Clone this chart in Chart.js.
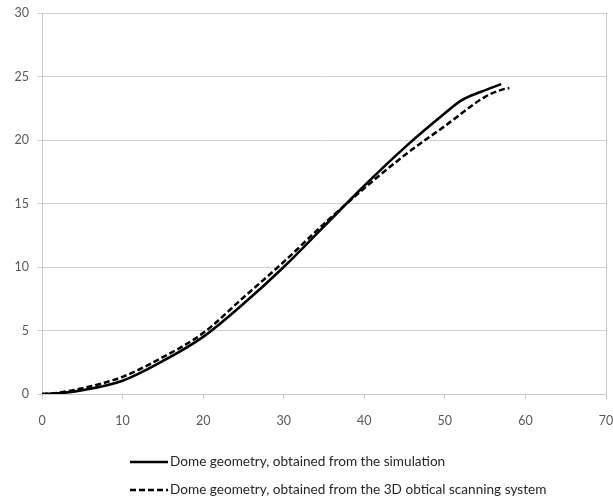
<!DOCTYPE html>
<html>
<head>
<meta charset="utf-8">
<script src="https://cdn.jsdelivr.net/npm/chart.js@4/dist/chart.umd.min.js"></script>
<style>
html,body{margin:0;padding:0;background:#fff;}
#wrap{width:613px;height:504px;position:relative;}
</style>
</head>
<body>
<div id="wrap"><canvas id="c" width="613" height="504"></canvas></div>
<script>
const xSim = [0, 2, 5, 10, 15, 20, 25, 30, 35, 40, 45, 50, 52, 54.5, 57];
const ySim = [0, 0.05, 0.3, 1.05, 2.6, 4.5, 7.1, 10.0, 13.2, 16.4, 19.4, 22.1, 23.1, 23.8, 24.4];
const xScan = [0, 2, 5, 10, 15, 20, 25, 30, 35, 40, 45, 50, 55, 57, 58];
const yScan = [0, 0.1, 0.45, 1.35, 2.9, 4.8, 7.6, 10.4, 13.4, 16.2, 18.8, 21.1, 23.4, 23.95, 24.1];
const seriesNames = ["Dome geometry, obtained from the simulation", "Dome geometry, obtained from the 3D obtical scanning system"];
const xTicks = [0, 10, 20, 30, 40, 50, 60, 70];
const yTicks = [0, 5, 10, 15, 20, 25, 30];

const pts = (xs, ys) => xs.map((x, i) => ({x: x, y: ys[i]}));
const FONT = "Lato, 'Open Sans', sans-serif";

const legendPlugin = {
  id: 'customLegend',
  afterDraw(chart) {
    const ctx = chart.ctx;
    const items = [
      {y: 462, dash: []},
      {y: 490, dash: [6, 3]}
    ];
    ctx.save();
    items.forEach((it, i) => {
      ctx.strokeStyle = '#000';
      ctx.lineWidth = 2.5;
      ctx.setLineDash(it.dash);
      ctx.beginPath();
      ctx.moveTo(130, it.y);
      ctx.lineTo(168, it.y);
      ctx.stroke();
      ctx.setLineDash([]);
      ctx.fillStyle = '#262626';
      ctx.font = "13.6px " + FONT;
      ctx.textBaseline = 'middle';
      ctx.textAlign = 'left';
      ctx.fillText(seriesNames[i], 170, it.y);
    });
    ctx.restore();
  }
};

const borderPlugin = {
  id: 'rightBorder',
  beforeDatasetsDraw(chart) {
    const a = chart.chartArea, ctx = chart.ctx;
    ctx.save();
    ctx.strokeStyle = '#c8c8c8';
    ctx.lineWidth = 1;
    ctx.beginPath();
    ctx.moveTo(Math.round(a.right) + 0.5, a.top);
    ctx.lineTo(Math.round(a.right) + 0.5, a.bottom);
    ctx.stroke();
    ctx.restore();
  }
};

new Chart(document.getElementById('c'), {
  type: 'scatter',
  data: {
    datasets: [
      {label: seriesNames[0], data: pts(xSim, ySim), showLine: true, borderColor: '#000', borderWidth: 2.6, pointRadius: 0, cubicInterpolationMode: 'monotone', fill: false},
      {label: seriesNames[1], data: pts(xScan, yScan), showLine: true, borderColor: '#000', borderWidth: 2.5, borderDash: [6, 3], pointRadius: 0, cubicInterpolationMode: 'monotone', fill: false}
    ]
  },
  options: {
    responsive: false,
    animation: false,
    layout: {padding: {top: 13, right: 7, left: 0, bottom: 0}},
    plugins: {legend: {display: false}, tooltip: {enabled: false}},
    scales: {
      x: {
        type: 'linear', min: 0, max: 70,
        afterBuildTicks: s => { s.ticks = xTicks.map(v => ({value: v})); },
        afterFit: s => { s.height = 110; s.paddingRight = 0; s.paddingLeft = 0; },
        grid: {drawOnChartArea: false, drawTicks: true, tickLength: 5, color: '#c8c8c8'},
        border: {color: '#c8c8c8', width: 1},
        ticks: {color: '#595959', font: {family: FONT, size: 12.5}, padding: 14, maxRotation: 0}
      },
      y: {
        type: 'linear', min: 0, max: 30,
        afterBuildTicks: s => { s.ticks = yTicks.map(v => ({value: v})); },
        afterFit: s => { s.width = 42; s.paddingTop = 0; s.paddingBottom = 0; },
        grid: {color: '#d0d0d0', tickLength: 5, drawTicks: true},
        border: {color: '#c8c8c8', width: 1},
        ticks: {color: '#595959', font: {family: FONT, size: 12.5}, padding: 8}
      }
    }
  },
  plugins: [legendPlugin, borderPlugin]
});
</script>
</body>
</html>
